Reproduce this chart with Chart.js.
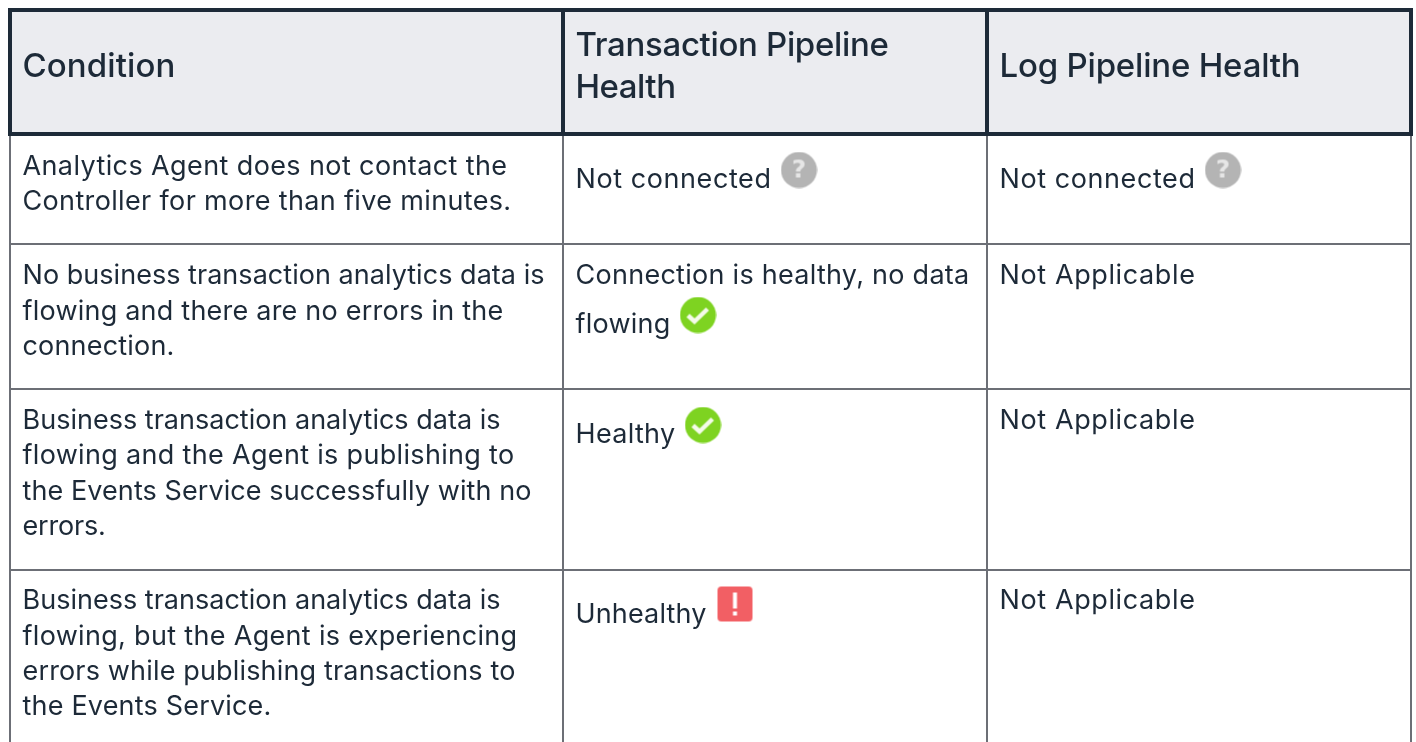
<!DOCTYPE html>
<html>
<head>
  <title>Pipeline Health</title>
  <script src="https://cdn.jsdelivr.net/npm/chart.js"></script>
  <style>
    html, body { margin: 0; padding: 0; background: #fff; overflow: hidden; }
    canvas { display: block; }
  </style>
</head>
<body>
  <canvas id="healthTable" width="1416" height="742"></canvas>

  <script>
    // table content
    const headers = [
      ['Condition'],
      ['Transaction Pipeline', 'Health'],
      ['Log Pipeline Health']
    ];
    const conditions = [
      ['Analytics Agent does not contact the', 'Controller for more than five minutes.'],
      ['No business transaction analytics data is', 'flowing and there are no errors in the', 'connection.'],
      ['Business transaction analytics data is', 'flowing and the Agent is publishing to', 'the Events Service successfully with no', 'errors.'],
      ['Business transaction analytics data is', 'flowing, but the Agent is experiencing', 'errors while publishing transactions to', 'the Events Service.']
    ];
    const transactionHealth = [
      ['Not connected'],
      ['Connection is healthy, no data', 'flowing'],
      ['Healthy'],
      ['Unhealthy']
    ];
    const logHealth = [
      ['Not connected'],
      ['Not Applicable'],
      ['Not Applicable'],
      ['Not Applicable']
    ];

    // table geometry, in axis units
    const columnEdges = [0, 553, 977, 1401];
    const rowEdges = [0, 124, 234, 379, 560];
    const xMax = 1401;
    const yMax = 732;

    // line centres for each block of text, in axis units
    const headerY = [[57], [36, 78], [57]];
    const conditionY = [[157, 192], [266, 302, 337], [411, 446, 482, 517], [591, 627, 662, 697]];
    const transactionY = [[170], [266, 315], [425], [605]];
    const logY = [[170], [266], [411], [591]];

    // how wide each line is set, the reference font runs differently from Inter
    const lineWidths = {
      'Condition': 153,
      'Transaction Pipeline': 313,
      'Health': 100,
      'Log Pipeline Health': 301,
      'Analytics Agent does not contact the': 485,
      'Controller for more than five minutes.': 489,
      'No business transaction analytics data is': 522,
      'flowing and there are no errors in the': 481,
      'connection.': 152,
      'Business transaction analytics data is': 478,
      'flowing and the Agent is publishing to': 492,
      'the Events Service successfully with no': 509,
      'errors.': 83,
      'flowing, but the Agent is experiencing': 495,
      'errors while publishing transactions to': 493,
      'the Events Service.': 249,
      'Not connected': 196,
      'Connection is healthy, no data': 394,
      'flowing': 95,
      'Healthy': 100,
      'Unhealthy': 131,
      'Not Applicable': 196
    };

    // status icons
    const questionIcons = [{ x: 789, y: 160 }, { x: 1213, y: 160 }];
    const checkIcons = [{ x: 688, y: 305 }, { x: 693, y: 415 }];
    const errorIcons = [{ x: 725, y: 594 }];

    const INK = '#1d2a38';
    const BODY_FONT = '400 27px Inter';
    const HEAD_FONT = '500 33px Inter';

    function iconCanvas(draw) {
      const c = document.createElement('canvas');
      c.width = 37;
      c.height = 37;
      draw(c.getContext('2d'));
      return c;
    }
    function disc(g, color) {
      g.fillStyle = color;
      g.beginPath();
      g.arc(18.5, 18.5, 18, 0, Math.PI * 2);
      g.fill();
    }
    const questionIcon = iconCanvas(g => {
      disc(g, '#b4b4b4');
      g.fillStyle = '#e6e6e6';
      g.font = '700 25px "DejaVu Sans"';
      g.textAlign = 'center';
      g.textBaseline = 'middle';
      g.fillText('?', 18.5, 19);
    });
    const checkIcon = iconCanvas(g => {
      disc(g, '#7ed321');
      g.strokeStyle = '#f4fbe9';
      g.lineWidth = 4.5;
      g.beginPath();
      g.moveTo(8.5, 19);
      g.lineTo(15, 25);
      g.lineTo(28, 12.5);
      g.stroke();
    });
    const errorIcon = iconCanvas(g => {
      g.fillStyle = '#f25f64';
      g.beginPath();
      g.roundRect(1, 1, 35, 35, 4);
      g.fill();
      g.fillStyle = '#ffffff';
      g.fillRect(16.5, 7, 4, 16);
      g.fillRect(16.5, 26, 4, 4);
    });

    function iconDataset(points, icon) {
      return { data: points, pointStyle: icon, pointRadius: 18, showLine: false, clip: false, order: 0 };
    }
    function borderDataset(points) {
      return {
        data: points, showLine: true, pointRadius: 0, borderColor: INK, borderWidth: 4,
        borderCapStyle: 'square', clip: false, order: 1
      };
    }

    const headerBorders = [
      borderDataset([{ x: 0, y: rowEdges[0] }, { x: xMax, y: rowEdges[0] }]),
      borderDataset([{ x: 0, y: rowEdges[1] }, { x: xMax, y: rowEdges[1] }])
    ].concat(columnEdges.map(x => borderDataset([{ x: x, y: rowEdges[0] }, { x: x, y: rowEdges[1] }])));

    const tableText = {
      id: 'tableText',
      afterDatasetsDraw(chart) {
        const { ctx, scales } = chart;
        const put = (lines, ys, column, font) => {
          ctx.font = font;
          lines.forEach((line, i) => {
            ctx.letterSpacing = '0px';
            const spare = lineWidths[line] - ctx.measureText(line).width;
            ctx.letterSpacing = (spare / line.length) + 'px';
            ctx.fillText(line, scales.x.getPixelForValue(columnEdges[column] + 12.5), scales.y.getPixelForValue(ys[i]));
          });
        };
        ctx.save();
        ctx.fillStyle = INK;
        ctx.textAlign = 'left';
        ctx.textBaseline = 'middle';
        headers.forEach((lines, c) => put(lines, headerY[c], c, HEAD_FONT));
        conditions.forEach((lines, r) => put(lines, conditionY[r], 0, BODY_FONT));
        transactionHealth.forEach((lines, r) => put(lines, transactionY[r], 1, BODY_FONT));
        logHealth.forEach((lines, r) => put(lines, logY[r], 2, BODY_FONT));
        ctx.restore();
      }
    };

    const chart = new Chart(document.getElementById('healthTable'), {
      type: 'scatter',
      data: {
        datasets: [
          iconDataset(questionIcons, questionIcon),
          iconDataset(checkIcons, checkIcon),
          iconDataset(errorIcons, errorIcon),
          ...headerBorders,
          {
            // header background
            data: [{ x: 0, y: rowEdges[1] }, { x: xMax, y: rowEdges[1] }],
            showLine: true, pointRadius: 0, borderWidth: 0,
            fill: { target: { value: 0 } },
            backgroundColor: '#ebecf0', order: 2
          }
        ]
      },
      options: {
        responsive: false,
        animation: false,
        events: [],
        layout: { autoPadding: false, padding: { left: 10, top: 10, right: 5, bottom: 0 } },
        plugins: { legend: { display: false }, tooltip: { enabled: false }, title: { display: false } },
        scales: {
          x: {
            type: 'linear', min: 0, max: xMax,
            afterBuildTicks: axis => { axis.ticks = columnEdges.map(v => ({ value: v })); },
            ticks: { display: false },
            border: { display: false },
            grid: { color: '#6c6f76', lineWidth: 2, drawTicks: false }
          },
          y: {
            type: 'linear', min: 0, max: yMax, reverse: true,
            afterBuildTicks: axis => { axis.ticks = rowEdges.map(v => ({ value: v })); },
            ticks: { display: false },
            border: { display: false },
            grid: { color: '#6c6f76', lineWidth: 2, drawTicks: false }
          }
        }
      },
      plugins: [tableText]
    });
  </script>
</body>
</html>
